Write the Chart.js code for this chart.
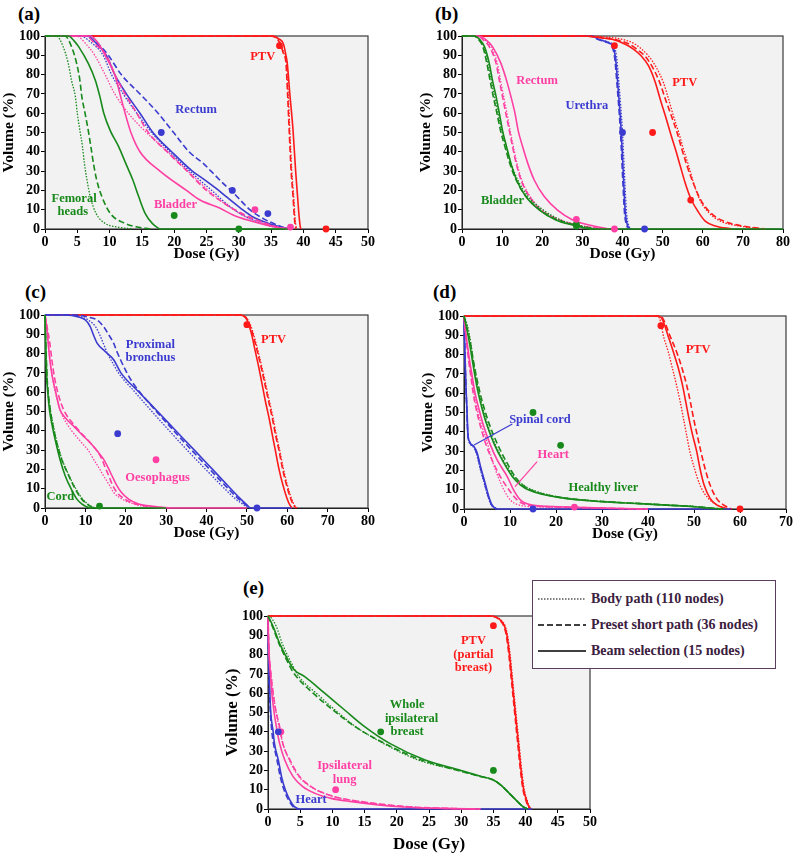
<!DOCTYPE html>
<html><head><meta charset="utf-8">
<script src="https://cdn.jsdelivr.net/npm/chart.js@4"></script>
<style>
body{margin:0;width:793px;height:857px;position:relative;background:#fff;overflow:hidden;font-family:"Liberation Serif","DejaVu Serif",serif}
canvas{position:absolute}
.plab{position:absolute;font-weight:bold;font-size:19px;line-height:1;color:#000}
.legend{position:absolute;left:532px;top:580px;width:244px;height:89px;box-sizing:border-box;border:1.5px solid #5b3d5e;background:#fff}
.lrow{position:absolute;left:0;width:240px;height:20px}
.lrow svg{position:absolute;left:5px;top:4px}
.lrow span{position:absolute;left:58px;top:2px;font-weight:bold;font-size:14px;line-height:16px;color:#3b2040;white-space:nowrap}
</style></head><body>
<div class="plab" style="left:18px;top:4px">(a)</div>
<div class="plab" style="left:435px;top:4px">(b)</div>
<div class="plab" style="left:25px;top:282px">(c)</div>
<div class="plab" style="left:433px;top:282px">(d)</div>
<div class="plab" style="left:243px;top:578px">(e)</div>
<canvas id="ca"></canvas><canvas id="cb"></canvas><canvas id="cc"></canvas><canvas id="cd"></canvas><canvas id="ce"></canvas>
<div class="legend">
 <div class="lrow" style="top:8px"><svg width="48" height="12"><line x1="0" y1="6" x2="48" y2="6" stroke="#000" stroke-width="1.2" stroke-dasharray="1.5,1.5"/></svg><span>Body path (110 nodes)</span></div>
 <div class="lrow" style="top:34px"><svg width="48" height="12"><line x1="0" y1="6" x2="48" y2="6" stroke="#000" stroke-width="1.5" stroke-dasharray="6,3"/></svg><span>Preset short path (36 nodes)</span></div>
 <div class="lrow" style="top:60px"><svg width="48" height="12"><line x1="0" y1="6" x2="48" y2="6" stroke="#000" stroke-width="1.5"/></svg><span>Beam selection (15 nodes)</span></div>
</div>
<script>
// ---------- Tick labels ----------
const ticksX50 = [0,5,10,15,20,25,30,35,40,45,50];
const ticksX80 = [0,10,20,30,40,50,60,70,80];
const ticksX70 = [0,10,20,30,40,50,60,70];
const ticksY = [0,10,20,30,40,50,60,70,80,90,100];

// ---------- Panel (a) : [dose Gy, volume %] ----------
const aPtvDot = [[0,100],[35.2,100],[36,98.5],[36.5,96],[37,91],[37.4,86],[37.65,70],[37.9,51],[38.2,30],[38.5,16.7],[38.7,6],[38.85,1.5],[38.95,0]];
const aPtvDash = [[0,100],[35,100],[35.9,98.5],[36.4,96],[36.9,91],[37.3,86],[37.55,70],[37.8,51],[38.1,30],[38.4,16.7],[38.6,6],[38.75,1.5],[38.85,0]];
const aPtvSolid = [[0,100],[35.3,100],[36.2,98.5],[36.9,96],[37.3,90],[37.5,86],[37.9,70],[38.4,51],[38.8,30],[39.1,16.7],[39.35,6],[39.5,1.5],[39.6,0]];
const aRectumDot = [[0,100],[5.5,100],[7,97],[9,90],[10.3,80],[12.1,70],[14.2,60],[16.5,50],[19.3,40],[22.4,30],[25.8,20],[28.5,12],[30.7,7],[33.5,3],[35.5,1],[37,0]];
const aRectumDash = [[0,100],[7,100],[8.5,95],[9.8,90],[11.8,80],[14.7,70],[17.5,60],[19.9,50],[22.3,40],[24.5,34],[25.7,30],[28.1,22],[28.8,20],[31.2,11.6],[31.7,10],[34,5],[36,2],[37.5,0]];
const aRectumSolid = [[0,100],[6.5,100],[8,96],[9.5,90],[10.8,80],[12.6,70],[14.7,60],[16.7,50],[19.6,40],[22.8,30],[24.5,26],[26.5,21],[28.1,16.6],[30.2,11],[32.2,6.2],[34.5,3],[36.5,1],[37.8,0]];
const aBladderDot = [[0,100],[4.9,100],[6.3,96],[7.7,90],[9.3,80],[10.8,70],[12.9,60],[15.7,50],[19,40],[22.1,30],[25.3,20],[28.5,11.5],[31.3,6],[34.3,2.5],[36.3,0.8],[38,0]];
const aBladderDash = [[0,100],[6.3,100],[8,95],[9.5,90],[10.8,80],[12.4,70],[14.2,60],[16,50],[18.9,40],[22,30],[25,20],[27.8,13.2],[30,8.9],[32.5,5],[35,2],[36.5,0.6],[38,0]];
const aBladderSolid = [[0,100],[7,100],[8.3,96],[9.3,90],[10.8,80],[11.6,70],[12.4,60],[13.3,50],[14.7,40],[17.8,30],[21.9,20],[24,15],[27.1,10.7],[29.1,7.3],[31.5,4.5],[34.3,2],[36,0.8],[37.8,0]];
const aFemoralDot = [[0,100],[1.8,100],[2.8,94.5],[3.6,85.8],[4.1,77],[4.7,68.6],[5,60],[5.4,51],[5.8,42.7],[6.1,34],[6.5,25.4],[7,16.8],[7.9,8.1],[9.3,2.9],[11.4,0.9],[13.5,0]];
const aFemoralDash = [[0,100],[3.1,100],[4.1,94.5],[4.9,85.8],[5.4,77],[5.7,68.6],[6.2,60],[6.7,51],[7.1,42.7],[7.5,34],[8,25.4],[8.8,16.8],[10.1,8.1],[12.4,2.9],[14.5,0.9],[16.6,0]];
const aFemoralSolid = [[0,100],[3.6,100],[4.5,97.5],[5.2,94.5],[6.7,85.8],[7.8,77],[8.5,68.6],[9.1,60],[10.1,51],[11.4,42.7],[12.5,34],[13.6,25.4],[14.5,16.8],[15.5,8.1],[16.6,2.9],[17.3,1],[17.9,0],[38,0]];
const aPtsRed = [[36.3,95],[43.5,0]];
const aPtsBlue = [[18,50],[29,20],[34.5,8]];
const aPtsPink = [[32.5,10],[38,1]];
const aPtsGreen = [[20,7],[30,0]];

// ---------- Panel (b) ----------
const bPtvDot = [[0,100],[32,100],[36.5,99.3],[39.9,98.3],[43.2,95.7],[46.5,89.6],[48.2,84.5],[50.2,75.8],[51.5,67.2],[52.7,58.5],[54,50],[55.2,41.3],[56.5,32.6],[57.7,24],[59.2,15.4],[61.5,8.5],[64.4,4.1],[68.9,1.6],[74.8,0]];
const bPtvDash = [[0,100],[30,100],[35.5,99],[38.5,98],[41.5,96],[43.6,93.1],[45.6,89.6],[47.3,84.5],[49.3,75.8],[50.7,67.2],[52.2,58.5],[53.6,50],[54.8,41.3],[56.1,32.6],[57.6,24],[59.4,15.4],[61.9,8.5],[65.2,4.1],[69.8,1.6],[75.6,0]];
const bPtvSolid = [[0,100],[30,100],[34.9,99],[37.4,98.3],[40.7,95.7],[42.8,93.1],[44.7,89.6],[46.5,84.5],[48.2,75.8],[49.4,67.2],[50.7,58.5],[51.9,50],[53.2,41.3],[54.4,32.6],[55.6,24],[57.1,15.4],[59,8.5],[60.6,4.1],[63.1,1.6],[67.3,0]];
const bUrethraDot = [[0,100],[32.6,100],[34.3,98.3],[36.4,96.9],[37.8,94.8],[38.5,89.6],[39.1,75.8],[40,50],[40.6,24],[41,8.5],[41.6,1.6],[42.2,0]];
const bUrethraDash = [[0,100],[32,100],[33.8,98.3],[35.8,96.9],[37.3,94.8],[38,89.6],[38.6,75.8],[39.5,50],[40.1,24],[40.5,8.5],[41.1,1.6],[41.7,0]];
const bUrethraSolid = [[0,100],[32.4,100],[34,98.3],[36.1,96.9],[37.5,94.8],[38.2,89.6],[38.8,75.8],[39.7,50],[40.3,24],[40.7,8.5],[41.3,1.6],[41.9,0]];
const bRectumDot = [[0,100],[4,100],[5.6,98],[7.2,94.5],[8.8,85.8],[9.6,77],[10.4,68.6],[11.2,60],[12,51],[12.8,42.7],[13.7,34],[14.9,25.4],[17,16.8],[20,9.8],[24.6,4.7],[28.8,2.1],[35.5,0]];
const bRectumDash = [[0,100],[3.8,100],[5.3,98],[6.8,94.5],[8.5,85.8],[9.3,77],[10.1,68.6],[10.9,60],[11.8,51],[12.6,42.7],[13.5,34],[14.7,25.4],[16.8,16.8],[19.7,9.8],[24.3,4.7],[28.4,2.1],[35,0]];
const bRectumSolid = [[0,100],[4.3,100],[6,98],[7.6,94.5],[9.7,85.8],[11.1,77],[12.2,68.6],[13.2,60],[14,51],[15.1,42.7],[16.4,34],[18,25.4],[20.5,16.8],[23.8,9.8],[27.6,4.7],[31.7,2.1],[36.7,0]];
const bBladderDot = [[0,100],[3,100],[4.4,98],[5.4,94.5],[6.5,85.8],[7.3,77],[8.1,68.6],[9,60],[9.9,51],[11,42.7],[12.2,34],[13.9,25.4],[16.5,16.8],[20.3,9.8],[24.5,4.7],[28.5,2.1],[33.5,0]];
const bBladderDash = [[0,100],[2.8,100],[4.2,98],[5.2,94.5],[6.2,85.8],[7,77],[7.8,68.6],[8.7,60],[9.6,51],[10.7,42.7],[11.9,34],[13.5,25.4],[16,16.8],[19.5,9.8],[23.8,4.7],[28,2.1],[33,0]];
const bBladderSolid = [[0,100],[3.1,100],[4.5,98],[5.6,94.5],[6.8,85.8],[7.6,77],[8.5,68.6],[9.3,60],[10.1,51],[11.1,42.7],[12.2,34],[13.6,25.4],[15.9,16.8],[19.3,9.8],[23.4,4.7],[27.6,2.1],[32.6,0],[80,0]];
const bPtsRed = [[38,95],[47.5,50],[57,15]];
const bPtsBlue = [[40,50],[45.5,0]];
const bPtsPink = [[28.5,5],[38,0]];
const bPtsGreen = [[28.5,2.5],[28.5,1.5]];

// ---------- Panel (c) ----------
const cPtvDot = [[0,100],[48.6,100],[50,98.3],[50.9,94.8],[51.7,89.7],[52.8,81],[53.8,72.4],[54.7,63.8],[55.6,55.2],[56.5,46.6],[57.3,37.9],[58.2,29.3],[59,20.7],[60,12.1],[61,5.2],[61.7,1.7],[62.4,0]];
const cPtvDash = [[0,100],[48.5,100],[49.9,98.3],[50.7,94.8],[51.5,89.7],[52.6,81],[53.6,72.4],[54.5,63.8],[55.4,55.2],[56.3,46.6],[57.1,37.9],[58,29.3],[58.8,20.7],[59.8,12.1],[60.8,5.2],[61.5,1.7],[62.2,0]];
const cPtvSolid = [[0,100],[48.3,100],[49.8,98.3],[50.5,94.8],[51.2,89.7],[52.1,81],[53,72.4],[53.8,63.8],[54.6,55.2],[55.5,46.6],[56.3,37.9],[57.1,29.3],[57.9,20.7],[58.9,12.1],[59.9,5.2],[60.6,1.7],[61.2,0]];
const cBronchusDot = [[0,100],[6,100],[9,99],[11,97],[12.5,94],[13.5,90],[14.5,85],[15.5,80],[16.8,75],[18.2,70],[22.3,60],[26.5,50],[30.8,40],[35.2,30],[39.8,20],[44.5,10],[47,5],[49,2],[50.3,0]];
const cBronchusDash = [[0,100],[7.5,100],[10.5,99],[12.9,97.4],[14.5,94],[15.8,89.7],[17,85.4],[17.8,81.1],[18.7,76.8],[20.3,70],[21.7,65],[23.5,60],[27.6,50],[31.9,40],[36.3,30],[40.8,20],[45.4,10],[47.8,5],[49.5,2],[50.8,0]];
const cBronchusSolid = [[0,100],[5,100],[8.3,99],[10,97.4],[11.2,94],[12,89.7],[12.9,85.4],[14.9,81.1],[17,76.8],[18.8,70],[23.3,60],[27.9,50],[32.4,40],[37,30],[41.5,20],[46,10],[48.3,5],[49.8,2],[51,0],[61,0]];
const cOesophagusDot = [[0,100],[0.4,94],[0.8,85.4],[1.2,76.8],[1.8,68.2],[2.6,59.6],[3.7,51],[5.8,42.4],[9.1,33.8],[10.8,29.6],[12,25.3],[13.3,21],[14.5,16.7],[15.8,12.4],[17,8.1],[19.1,4.6],[22,2.1],[25,0.7],[29,0]];
const cOesophagusDash = [[0,100],[0.5,94],[1.2,85.4],[1.7,76.8],[2.3,68.2],[3.2,59.6],[4.6,51],[7.5,42.4],[11.2,33.8],[12.9,29.6],[14.1,25.3],[14.9,21],[15.8,16.7],[16.6,12.4],[17.8,8.1],[19.8,4.6],[22.4,2.1],[25.5,0.8],[30,0]];
const cOesophagusSolid = [[0,100],[0.4,94],[0.8,85.4],[1.2,76.8],[1.8,68.2],[2.7,59.6],[3.7,51],[5.4,45.9],[7.1,42.4],[9.1,38.1],[11.2,33.8],[12.9,29.6],[14.5,25.3],[15.6,21],[16.6,16.7],[17.6,12.4],[18.9,8.1],[20.7,4.6],[23.2,2.1],[26.6,0.9],[31.5,0],[50,0]];
const cCordDot = [[0,100],[0.2,85.4],[0.5,68.2],[0.8,59.6],[1.3,51],[2.1,42.4],[3,33.8],[4.2,25.3],[5.7,18],[6.6,14],[7.7,9.8],[9.3,4.6],[10.6,2.1],[11.7,0.6],[12.6,0]];
const cCordDash = [[0,100],[0.2,85.4],[0.5,68.2],[0.8,59.6],[1.3,51],[2,42.4],[2.9,33.8],[4.1,25.3],[5.6,18],[6.5,14],[7.5,9.8],[9.1,4.6],[10.4,2.1],[11.5,0.6],[12.4,0]];
const cCordSolid = [[0,100],[0.15,85.4],[0.4,68.2],[0.7,59.6],[1.1,51],[1.8,42.4],[2.7,33.8],[3.7,25.3],[5,16.7],[6.5,9.8],[7.9,4.6],[9.1,2.1],[10.2,0.7],[11.2,0],[30,0]];
const cPtsRed = [[50,95]];
const cPtsBlue = [[18,38.5],[52.5,0]];
const cPtsPink = [[27.5,25]];
const cPtsGreen = [[13.5,1]];

// ---------- Panel (d) ----------
const dPtvDot = [[0,100],[42,100],[42.5,98.8],[42.9,95.3],[43.3,90.2],[44.4,81.5],[45.3,72.9],[46.2,64.2],[47,55.6],[47.7,47],[48.4,38.3],[49.1,29.7],[50.1,21],[51.3,12.4],[53.1,5.5],[55,2.1],[57.5,0]];
const dPtvDash = [[0,100],[42.4,100],[43.2,98.8],[43.9,95.3],[44.7,90.2],[46.2,81.5],[47.4,72.9],[48.4,64.2],[49.2,55.6],[49.9,47],[50.7,38.3],[51.5,29.7],[52.4,21],[53.5,12.4],[54.9,5.5],[56.4,2.1],[58.2,0]];
const dPtvSolid = [[0,100],[42.2,100],[43,98.8],[43.6,95.3],[44.3,90.2],[45.5,81.5],[46.6,72.9],[47.5,64.2],[48.2,55.6],[48.9,47],[49.7,38.3],[50.6,29.7],[51.3,21],[52.2,12.4],[53.5,5.5],[54.9,2.1],[57.5,0]];
const dLiverDot = [[0,100],[0.8,94.5],[1.5,85.8],[2,77.2],[2.6,68.6],[3.3,60],[4.2,51.3],[5.3,42.7],[6.7,34],[8.5,25.4],[10.9,16.8],[12.9,12.4],[15,9.8],[18.5,7.3],[23,5.5],[31,3.8],[39,2.8],[45,2],[51,1.2],[54,0.5],[57,0]];
const dLiverDash = [[0,100],[0.6,94.5],[1.4,85.8],[2,77.2],[2.7,68.6],[3.5,60],[4.5,51.3],[5.7,42.7],[7.2,34],[9,25.4],[11.1,16.8],[12.8,12.4],[14.5,9.8],[18,7.3],[22.3,5.5],[30.3,3.8],[38.3,2.8],[44.3,2],[50.3,1.2],[53.5,0.5],[56.5,0]];
const dLiverSolid = [[0,100],[0.5,94.5],[1.2,85.8],[1.8,77.2],[2.4,68.6],[3.1,60],[4,51.3],[5.1,42.7],[6.5,34],[8.3,25.4],[10.5,16.8],[12.3,12.4],[14.1,9.8],[17.7,7.3],[22,5.5],[30,3.8],[38,2.8],[44,2],[50,1.2],[53,0.5],[56,0]];
const dHeartDot = [[0,100],[0.2,94.5],[0.6,85.8],[1.1,77.2],[1.6,68.6],[2.2,60],[2.9,51.3],[3.9,42.7],[5.1,34],[6.1,25.4],[7.4,16.8],[8.7,9.8],[10.1,4.6],[11.9,2.1],[17,1],[25,0.6],[32,0.3],[40,0]];
const dHeartDash = [[0,100],[0.2,94.5],[0.6,85.8],[1,77.2],[1.5,68.6],[2,60],[2.7,51.3],[3.6,42.7],[4.7,34],[6.1,25.4],[7.9,16.8],[9.8,9.8],[11.6,4.6],[13.7,2.1],[20,1.1],[26,0.7],[32,0.3],[40,0]];
const dHeartSolid = [[0,100],[0.2,94.5],[0.7,85.8],[1.2,77.2],[1.8,68.6],[2.4,60],[3.3,51.3],[4.3,42.7],[5.6,34],[7.2,25.4],[9.4,16.8],[10.8,9.8],[12.3,4.6],[14.8,2.1],[20.6,1.2],[26,0.8],[32,0.4],[40,0]];
const dCordDot = [[0,100],[0.15,85.8],[0.35,68.6],[0.6,51.3],[0.8,39.2],[1.1,34.9],[2,32.3],[2.7,28.8],[3.4,21.9],[4.4,13.3],[5.2,6.4],[5.9,2.1],[7,0]];
const dCordDash = [[0,100],[0.15,85.8],[0.35,68.6],[0.62,51.3],[0.82,39.2],[1.15,34.9],[2.1,32.3],[2.8,28.8],[3.5,21.9],[4.5,13.3],[5.3,6.4],[6,2.1],[7.1,0]];
const dCordSolid = [[0,100],[0.15,85.8],[0.35,68.6],[0.65,51.3],[0.85,39.2],[1.2,34.9],[2.2,32.3],[2.9,28.8],[3.6,21.9],[4.6,13.3],[5.4,6.4],[6.1,2.1],[7.2,0],[58,0]];
const dPtsRed = [[42.8,95],[60,0]];
const dPtsGreen = [[15,50],[21,33]];
const dPtsBlue = [[15,0]];
const dPtsPink = [[24,1]];

// ---------- Panel (e) ----------
const ePtvDot = [[0,100],[34.6,100],[35.6,99.3],[36.3,97.5],[36.8,95],[37.2,90],[37.6,80],[37.9,70],[38.2,60],[38.5,50],[38.8,40],[39.1,30],[39.4,20],[39.8,10],[40.2,5],[40.5,2],[40.9,0]];
const ePtvDash = [[0,100],[34.4,100],[35.4,99.3],[36.1,97.5],[36.6,95],[37,90],[37.4,80],[37.7,70],[38,60],[38.3,50],[38.6,40],[38.9,30],[39.2,20],[39.6,10],[40,5],[40.3,2],[40.7,0]];
const ePtvSolid = [[0,100],[34.5,100],[35.5,99.3],[36.2,97.5],[36.7,95],[37.1,90],[37.5,80],[37.8,70],[38.1,60],[38.4,50],[38.7,40],[39,30],[39.3,20],[39.7,10],[40.1,5],[40.4,2],[40.8,0]];
const eBreastDot = [[0,100],[0.5,99],[1.3,94.5],[2.2,85.8],[3.4,77.2],[4.8,68.6],[7.5,60],[10.4,51.3],[13.6,42.7],[17.9,34],[23.3,25.4],[29.5,20],[32.8,17],[35,15],[36.3,12],[37.5,8],[38.7,4],[39.6,1.2],[40.3,0]];
const eBreastDash = [[0,100],[0.7,94.5],[1.7,85.8],[2.9,77.2],[3.7,72],[4.4,68.6],[7,60],[10.1,51.3],[13.5,42.7],[18.1,34],[23.8,25.4],[29.5,20],[32.8,17],[35,15],[36.3,12],[37.5,8],[38.7,4],[39.6,1.2],[40.3,0]];
const eBreastSolid = [[0,100],[0.8,94.5],[1.8,85.8],[3.1,77.2],[4.1,72],[5.7,68.6],[8.8,60],[11.9,51.3],[15,42.7],[18.9,34],[24.4,25.4],[30,20],[33,17],[35,15],[36.3,12],[37.5,8],[38.7,4],[39.6,1.2],[40.3,0]];
const eLungDot = [[0,100],[0.1,85.8],[0.5,68.6],[0.8,60],[1.2,51.3],[1.7,42.7],[2.3,34],[3.3,25.4],[4.8,16.8],[6.6,11.6],[8.7,8.1],[11.3,5.5],[14.4,3.8],[18.6,2.1],[22.5,1],[28,0.3],[33,0]];
const eLungDash = [[0,100],[0.1,85.8],[0.5,68.6],[0.8,60],[1.2,51.3],[1.8,42.7],[2.3,34],[3.4,25.4],[4.9,16.8],[6.7,11.6],[8.8,8.1],[11.4,5.5],[14.5,3.8],[18.7,2.1],[22.5,1],[28,0.3],[33,0]];
const eLungSolid = [[0,100],[0.1,85.8],[0.4,68.6],[0.6,60],[0.9,51.3],[1.3,42.7],[1.8,34],[2.6,25.4],[3.9,16.8],[5.4,11.6],[7.3,8.1],[9.8,5.5],[13,3.8],[17.1,2.1],[21,1],[27,0.3],[33,0]];
const eHeartDash = [[0,100],[0.05,85.8],[0.15,68.6],[0.35,51.3],[0.6,40],[0.85,34],[1.4,25.4],[1.9,16.8],[2.5,9.8],[3.2,4.6],[3.9,1.2],[4.7,0]];
const eHeartSolid = [[0,100],[0.05,85.8],[0.2,68.6],[0.4,51.3],[0.8,40],[1,34],[1.6,25.4],[2.1,16.8],[2.7,9.8],[3.4,4.6],[4.1,1.2],[4.9,0],[41,0]];
const ePtsRed = [[35,95]];
const ePtsGreen = [[17.5,40],[35,20]];
const ePtsPink = [[10.5,10],[2,40]];
const ePtsBlue = [[1.6,40]];

// ---------- styling ----------
const RED='#ff1a1a', BLUE='#3b3bd0', PINK='#ff3fa3', GREEN='#18891b';
const FONT = '"Liberation Serif", "DejaVu Serif", serif';

function curve(pts, color, style){
  return {type:'line', data:pts.map(p=>({x:p[0],y:p[1]})), borderColor:color,
    borderWidth: style==='dot'?1.3:1.6,
    borderDash: style==='dot'?[1.5,1.5]:(style==='dash'?[6,3]:[]),
    pointRadius:0, cubicInterpolationMode:'monotone', fill:false, clip:false, order:2};
}
function dots(pts, color){
  return {type:'line', data:pts.map(p=>({x:p[0],y:p[1]})), showLine:false, pointRadius:3.4,
    pointBackgroundColor:color, pointBorderColor:color, pointBorderWidth:0, borderColor:color, clip:false, order:0};
}
function trio(d, da, s, color){ return [curve(d,color,'dot'), curve(da,color,'dash'), curve(s,color,'solid')]; }

const annot = {
  id:'annot',
  beforeDraw(chart){
    const {ctx, chartArea:a} = chart;
    ctx.save(); ctx.fillStyle='#f2f2f2'; ctx.fillRect(a.left,a.top,a.right-a.left,a.bottom-a.top); ctx.restore();
  },
  beforeDatasetsDraw(chart){
    const {ctx, chartArea:a} = chart;
    ctx.save(); ctx.strokeStyle='#3a3a3a'; ctx.lineWidth=1.2;
    ctx.strokeRect(a.left,a.top,a.right-a.left,a.bottom-a.top); ctx.restore();
  },
  afterDatasetsDraw(chart, args, opts){
    const {ctx, scales:{x,y}} = chart;
    ctx.save();
    (opts.lines||[]).forEach(l=>{
      ctx.strokeStyle=l.c; ctx.lineWidth=1.2; ctx.beginPath();
      ctx.moveTo(x.getPixelForValue(l.x1), y.getPixelForValue(l.y1));
      ctx.lineTo(x.getPixelForValue(l.x2), y.getPixelForValue(l.y2)); ctx.stroke();
    });
    ctx.font = 'bold '+(opts.size||13)+'px '+FONT; ctx.textAlign='center'; ctx.textBaseline='middle';
    (opts.labels||[]).forEach(l=>{ ctx.fillStyle=l.c; ctx.fillText(l.t, x.getPixelForValue(l.x), y.getPixelForValue(l.y)); });
    ctx.restore();
  }
};

function makePanel(p){
  const cv = document.getElementById(p.id);
  const W = p.yW + p.plotW + p.padR, H = 8 + p.plotH + p.xH;
  cv.width = W; cv.height = H; cv.style.left = p.left+'px'; cv.style.top = p.top+'px';
  cv.style.width = W+'px'; cv.style.height = H+'px';
  const tickFont = {family:FONT, weight:'bold', size:p.tickSize};
  const titleFont = {family:FONT, weight:'bold', size:p.titleSize};
  new Chart(cv, {
    type:'line',
    data:{datasets:p.datasets},
    options:{
      responsive:false, animation:false, devicePixelRatio:1,
      layout:{padding:{left:0, top:8, right:p.padR, bottom:0}},
      plugins:{legend:{display:false}, tooltip:{enabled:false}, annot:{labels:p.labels, lines:p.lines||[], size:p.labelSize}},
      scales:{
        x:{type:'linear', min:0, max:p.xMax,
           afterBuildTicks:s=>{ s.ticks = p.xTicks.map(v=>({value:v})); },
           afterFit:s=>{ s.height = p.xH; s.paddingLeft=0; s.paddingRight=0; },
           ticks:{font:tickFont, color:'#000', padding:1, maxRotation:0, autoSkip:false},
           grid:{display:true, drawOnChartArea:false, drawTicks:true, tickLength:4, color:'#000'},
           border:{display:true, color:'#000'},
           title:{display:true, text:'Dose (Gy)', font:titleFont, color:'#000', padding:{top:0,bottom:0}}},
        y:{type:'linear', min:0, max:100,
           afterBuildTicks:s=>{ s.ticks = ticksY.map(v=>({value:v})); },
           afterFit:s=>{ s.width = p.yW; s.paddingTop=0; s.paddingBottom=0; },
           ticks:{font:tickFont, color:'#000', padding:1, autoSkip:false},
           grid:{display:true, drawOnChartArea:false, drawTicks:true, tickLength:4, color:'#000'},
           border:{display:true, color:'#000'},
           title:{display:true, text:'Volume (%)', font:titleFont, color:'#000', padding:{top:0,bottom:0}}}
      }
    },
    plugins:[annot]
  });
}

const common = {plotH:193, tickSize:14, titleSize:15.5, labelSize:12.5};

makePanel(Object.assign({}, common, {id:'ca', left:0, top:28, yW:45, plotW:323, padR:10, xH:34, xMax:50, xTicks:ticksX50,
  datasets:[dots(aPtsRed,RED),dots(aPtsBlue,BLUE),dots(aPtsPink,PINK),dots(aPtsGreen,GREEN),
    ...trio(aFemoralDot,aFemoralDash,aFemoralSolid,GREEN),
    ...trio(aBladderDot,aBladderDash,aBladderSolid,PINK),
    ...trio(aRectumDot,aRectumDash,aRectumSolid,BLUE),
    ...trio(aPtvDot,aPtvDash,aPtvSolid,RED)],
  labels:[{t:'PTV',x:33.7,y:89,c:RED},{t:'Rectum',x:23.4,y:62,c:BLUE},{t:'Bladder',x:20.2,y:12.6,c:PINK},
          {t:'Femoral',x:4.5,y:15.7,c:GREEN},{t:'heads',x:4.3,y:9,c:GREEN}]}));

makePanel(Object.assign({}, common, {id:'cb', left:417, top:28, yW:45, plotW:321, padR:9, xH:34, xMax:80, xTicks:ticksX80,
  datasets:[dots(bPtsRed,RED),dots(bPtsBlue,BLUE),dots(bPtsPink,PINK),dots(bPtsGreen,GREEN),
    ...trio(bBladderDot,bBladderDash,bBladderSolid,GREEN),
    ...trio(bRectumDot,bRectumDash,bRectumSolid,PINK),
    ...trio(bPtvDot,bPtvDash,bPtvSolid,RED),
    ...trio(bUrethraDot,bUrethraDash,bUrethraSolid,BLUE)],
  labels:[{t:'Rectum',x:18.7,y:77,c:PINK},{t:'PTV',x:55.5,y:76,c:RED},{t:'Urethra',x:31.1,y:63.8,c:BLUE},{t:'Bladder',x:10.1,y:14.5,c:GREEN}]}));

makePanel(Object.assign({}, common, {id:'cc', left:0, top:307, yW:45, plotW:323, padR:10, xH:34, xMax:80, xTicks:ticksX80,
  datasets:[dots(cPtsRed,RED),dots(cPtsBlue,BLUE),dots(cPtsPink,PINK),dots(cPtsGreen,GREEN),
    ...trio(cCordDot,cCordDash,cCordSolid,GREEN),
    ...trio(cOesophagusDot,cOesophagusDash,cOesophagusSolid,PINK),
    ...trio(cBronchusDot,cBronchusDash,cBronchusSolid,BLUE),
    ...trio(cPtvDot,cPtvDash,cPtvSolid,RED)],
  labels:[{t:'PTV',x:56.6,y:87,c:RED},{t:'Proximal',x:26.1,y:84.5,c:BLUE},{t:'bronchus',x:26.1,y:77.6,c:BLUE},
          {t:'Oesophagus',x:27.9,y:15.5,c:PINK},{t:'Cord',x:3.8,y:6,c:GREEN}]}));

makePanel(Object.assign({}, common, {id:'cd', left:419, top:308, yW:45, plotW:322, padR:7, xH:34, xMax:70, xTicks:ticksX70,
  datasets:[dots(dPtsRed,RED),dots(dPtsGreen,GREEN),dots(dPtsBlue,BLUE),dots(dPtsPink,PINK),
    ...trio(dLiverDot,dLiverDash,dLiverSolid,GREEN),
    ...trio(dHeartDot,dHeartDash,dHeartSolid,PINK),
    ...trio(dCordDot,dCordDash,dCordSolid,BLUE),
    ...trio(dPtvDot,dPtvDash,dPtvSolid,RED)],
  labels:[{t:'PTV',x:50.9,y:82.4,c:RED},{t:'Spinal cord',x:16.5,y:46,c:BLUE},{t:'Heart',x:19.4,y:28,c:PINK},{t:'Healthy liver',x:30.3,y:11,c:GREEN}],
  lines:[{x1:10.5,y1:44,x2:2.2,y2:33.2,c:BLUE},{x1:15.9,y1:24.5,x2:11.1,y2:11.6,c:PINK}]}));

makePanel(Object.assign({}, common, {id:'ce', left:222, top:608, yW:46, plotW:322, padR:10, xH:46, xMax:50, xTicks:ticksX50,
  tickSize:14, titleSize:17,
  datasets:[dots(ePtsRed,RED),dots(ePtsGreen,GREEN),dots(ePtsBlue,BLUE),dots(ePtsPink,PINK),
    ...trio(eBreastDot,eBreastDash,eBreastSolid,GREEN),
    ...trio(eLungDot,eLungDash,eLungSolid,PINK),
    curve(eHeartDash,BLUE,'dash'), curve(eHeartSolid,BLUE,'solid'),
    ...trio(ePtvDot,ePtvDash,ePtvSolid,RED)],
  labels:[{t:'PTV',x:31.9,y:87,c:RED},{t:'(partial',x:31.9,y:80,c:RED},{t:'breast)',x:31.9,y:73,c:RED},
          {t:'Whole',x:21.6,y:54,c:GREEN},{t:'ipsilateral',x:22.3,y:47,c:GREEN},{t:'breast',x:21.6,y:40,c:GREEN},
          {t:'Ipsilateral',x:11.9,y:22.4,c:PINK},{t:'lung',x:11.9,y:15.3,c:PINK},{t:'Heart',x:6.7,y:4.7,c:BLUE}]}));
</script>
</body></html>
